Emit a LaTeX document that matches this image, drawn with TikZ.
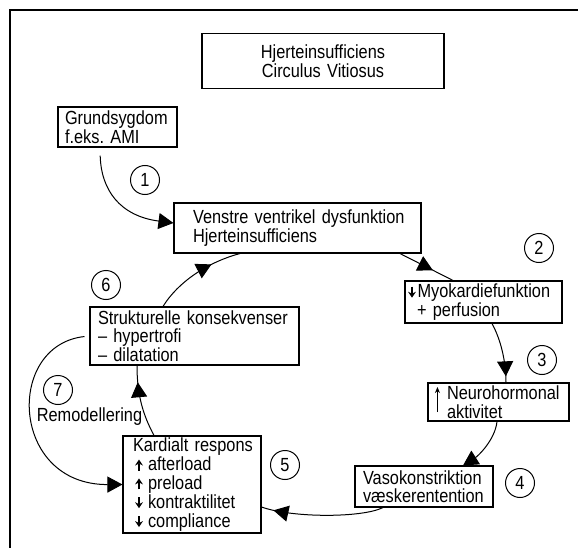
\documentclass[tikz,border=0pt]{standalone}
\usepackage{fontspec}
\setmainfont{Liberation Sans}[FakeStretch=0.86]
\usetikzlibrary{arrows.meta,decorations.markings,calc}
\newcommand\fs{\fontsize{19}{18.5}\selectfont}
\newcommand\lft[2]{\hspace*{#1}\parbox[c]{300pt}{#2}}
\newcommand\uarr{\tikz[baseline=0pt]{\draw[line width=1.8pt](0pt,0pt)--(0pt,7pt);\fill(-4pt,5pt)--(0pt,11pt)--(4pt,5pt)--(0pt,7pt)--cycle;}}
\newcommand\darr{\tikz[baseline=0pt]{\draw[line width=1.8pt](0pt,11pt)--(0pt,4pt);\fill(-4pt,6pt)--(0pt,0pt)--(4pt,6pt)--(0pt,4pt)--cycle;}}
\begin{document}
\begin{tikzpicture}[x=1pt,y=-1pt,
  box/.style={draw,line width=1.1pt,inner xsep=0pt,inner ysep=0pt,font=\fs,align=left},
  num/.style={draw,circle,line width=1pt,minimum size=29pt,inner sep=0pt,font=\fs},
  conn/.style={line width=1pt},
  arr/.style={-{Triangle[length=15pt,width=16pt]}},
  midarr/.style={postaction={decorate,decoration={markings,mark=at position #1 with {\arrow{Triangle[length=15pt,width=16pt]}}}}}]
\useasboundingbox (0,0) rectangle (578,548);
\draw[line width=1.2pt] (10,548) -- (10,10) -- (578,10);
% boxes
\node[box,align=center,minimum width=242pt,minimum height=55pt,text width=242pt] (t) at (323,61) {Hjerteinsufficiens\\Circulus Vitiosus};
\node[box,font=\fontsize{19}{16.5}\selectfont,minimum width=119pt,minimum height=40pt,text width=119pt] (g) at (117.5,127) {\lft{7pt}{Grundsygdom\\f.eks.\ AMI}};
\node[box,minimum width=247pt,minimum height=50pt,text width=247pt] (v) at (297.5,228) {\lft{19pt}{Venstre ventrikel dysfunktion\\Hjerteinsufficiens}};
\node[box,minimum width=157pt,minimum height=42pt,text width=157pt] (m) at (483.5,302) {\lft{3pt}{\darr\hspace{1.5pt}Myokardiefunktion\\\hspace*{9pt}+ perfusion}};
\node[box,minimum width=141pt,minimum height=38pt,text width=141pt] (n) at (498.5,402) {\lft{19pt}{Neurohormonal\\aktivitet}};
\node[box,minimum width=138pt,minimum height=41pt,text width=138pt] (w) at (424,486.5) {\lft{8pt}{Vasokonstriktion\\væskerentention}};
\node[box,font=\fontsize{19}{18.8}\selectfont,minimum width=138pt,minimum height=97pt,text width=138pt] (k) at (192,484.5) {\lft{10pt}{Kardialt respons\\\hspace*{2pt}\uarr\hspace{5pt}afterload\\\hspace*{2pt}\uarr\hspace{5pt}preload\\\hspace*{2pt}\darr\hspace{5pt}kontraktilitet\\\hspace*{2pt}\darr\hspace{5pt}compliance}};
\node[box,minimum width=209pt,minimum height=58pt,text width=209pt] (s) at (194.5,336) {\lft{8pt}{Strukturelle konsekvenser\\– hypertrofi\\– dilatation}};
\draw[line width=0.9pt,-{Stealth[length=6pt,width=5pt]}] ([xshift=10pt,yshift=-10pt]n.west) -- ([xshift=10pt,yshift=15pt]n.west);
% numbers
\node[num] (c1) at (145,180) {1};
\node[num] (c2) at (539,248) {2};
\node[num] (c3) at (542,360) {3};
\node[num] (c4) at (520,483) {4};
\node[num] (c5) at (285,465) {5};
\node[num] (c6) at (106,285) {6};
\node[num] (c7) at (58,390) {7};
\node[font=\fs,inner sep=0pt] (r) at (89.5,417) {Remodellering};
% connectors
\draw[conn,arr,shorten <=8pt] ([xshift=-17.5pt]g.south) .. controls (101,190) and (120,216) .. ([yshift=5pt]v.west);
\draw[conn,midarr=0.62] ([xshift=102.5pt]v.south) -- ([xshift=-30.5pt]m.north);
\draw[conn,midarr=0.9] ([xshift=8.5pt]m.south) .. controls (501,340) and (506,362) .. ([xshift=7.5pt]n.north);
\draw[conn,arr] ([xshift=-1.5pt]n.south) .. controls (495,440) and (478,456) .. ([xshift=39pt]w.north);
\draw[conn,midarr=0.9] ([xshift=-41pt]w.south) .. controls (362,518) and (292,518) .. ([yshift=-22.5pt]k.east);
\draw[conn,midarr=0.77] ([xshift=-38pt]k.north) .. controls (143,415) and (137,395) .. ([xshift=-57.5pt]s.south);
\draw[conn,midarr=0.68] ([xshift=-31.5pt]s.north) .. controls (178,282) and (208,262) .. ([xshift=-57.5pt]v.south);
\draw[conn,arr,shorten <=5pt] (s.west) .. controls (5,345) and (10,485) .. (k.west);
\end{tikzpicture}
\end{document}
